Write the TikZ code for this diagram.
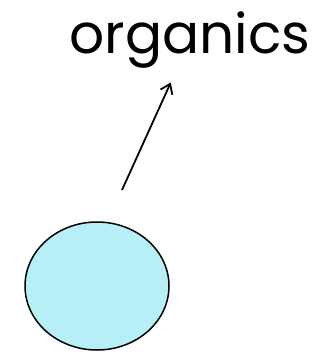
\documentclass[tikz,border=0pt]{standalone}
\usepackage{fontspec}
\setmainfont{Poppins}
\usepackage{tikz}
\usetikzlibrary{positioning,arrows.meta,shapes.geometric}
\definecolor{cellblue}{RGB}{183,239,246}

\begin{document}
\begin{tikzpicture}[x=1pt,y=-1pt,
  label text/.style={font=\fontsize{55}{66}\selectfont,inner sep=14pt},
  cell/.style={draw,line width=1.5pt,fill=cellblue,ellipse,minimum width=144pt,minimum height=128pt,inner sep=0pt},
  growarrow/.style={-{Straight Barb[length=9pt,width=13pt,line width=1.8pt]},line width=1.8pt}]
\useasboundingbox (0,0) rectangle (335,352);
\node[label text] (organics) at (190,40) {organics};
\node[cell] (blob) at (97,286) {};
\coordinate (tail) at (122,190);
\draw[growarrow] (tail) -- (organics);
\end{tikzpicture}
\end{document}
